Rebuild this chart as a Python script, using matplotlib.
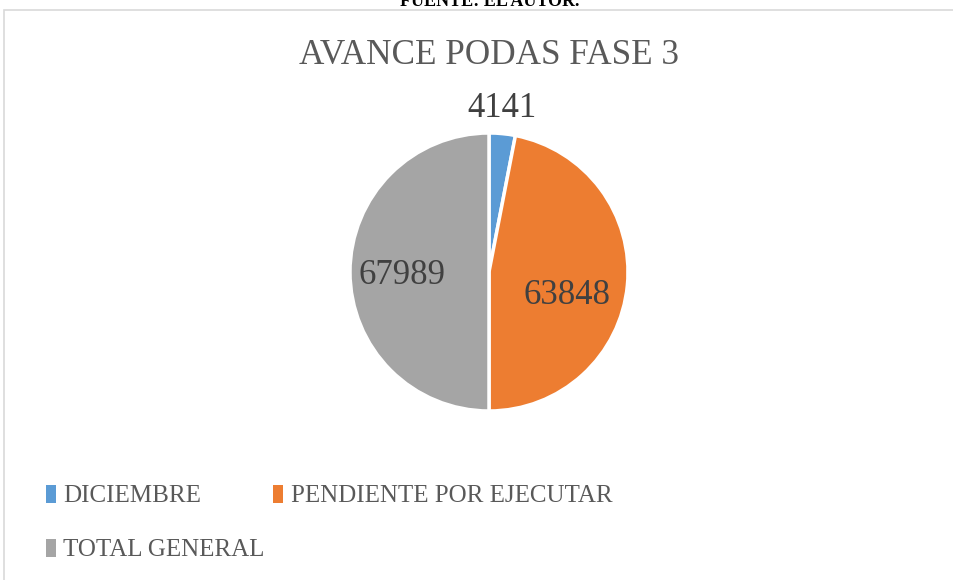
import matplotlib
matplotlib.use("Agg")
from matplotlib import pyplot as plt
from matplotlib.patches import Rectangle, Patch
import numpy as np

categorias = ["DICIEMBRE", "PENDIENTE POR EJECUTAR", "TOTAL GENERAL"]
valores = [4141, 63848, 67989]
colores = ["#5b9bd5", "#ed7d31", "#a5a5a5"]

# donde van las etiquetas de datos (radio y corrimiento de angulo)
dist_etiquetas = [1.18, 0.59, 0.63]
giro_etiquetas = [1.0, -11.5, 2.6]

plt.rcParams['font.family'] = ['Liberation Serif', 'DejaVu Serif']

fig = plt.figure(figsize=(9.54, 5.8), dpi=100)

# marco del grafico
fig.patches.append(Rectangle((4/954, -0.05), 1.0, 1 - 10/580 + 0.05, transform=fig.transFigure,
                             fill=False, edgecolor="#d9d9d9", linewidth=1.2))

fig.text(490/954, 1 - 6/580, "FUENTE: EL AUTOR.", ha="center", va="baseline",
         fontsize=13, fontweight="bold", color="black")
fig.text(489/954, 1 - 55/580, "AVANCE PODAS FASE 3", ha="center", va="center",
         fontsize=25.3, color="#595959")

ax = fig.add_axes([(489-139)/954, (580-411)/580, 278/954, 278/580])
wedges, _ = ax.pie(valores, colors=colores, startangle=90, counterclock=False,
                   wedgeprops=dict(edgecolor="white", linewidth=2.5))
for w, v, d, g in zip(wedges, valores, dist_etiquetas, giro_etiquetas):
    ang = np.deg2rad((w.theta1 + w.theta2) / 2 + g)
    ax.text(d*np.cos(ang), d*np.sin(ang), str(v), ha="center", va="center",
            fontsize=25, color="#404040")
ax.set_xlim(-1, 1)
ax.set_ylim(-1, 1)
ax.set_aspect("equal")
ax.axis("off")

handles = [Patch(facecolor=c, edgecolor="none") for c in colores]
estilo = dict(frameon=False, fontsize=18, labelcolor="#595959", handlelength=0.4,
              handleheight=0.75, handletextpad=0.3, loc="upper left")
# fila 1: diciembre y pendiente; fila 2: total general
fig.legend(handles[:2], categorias[:2], ncol=2, columnspacing=2.9,
           bbox_to_anchor=(23/954, 1 - 462/580), **estilo)
fig.legend(handles[2:], categorias[2:], ncol=1,
           bbox_to_anchor=(23/954, 1 - 516/580), **estilo)

plt.savefig("out.png", dpi=100)
